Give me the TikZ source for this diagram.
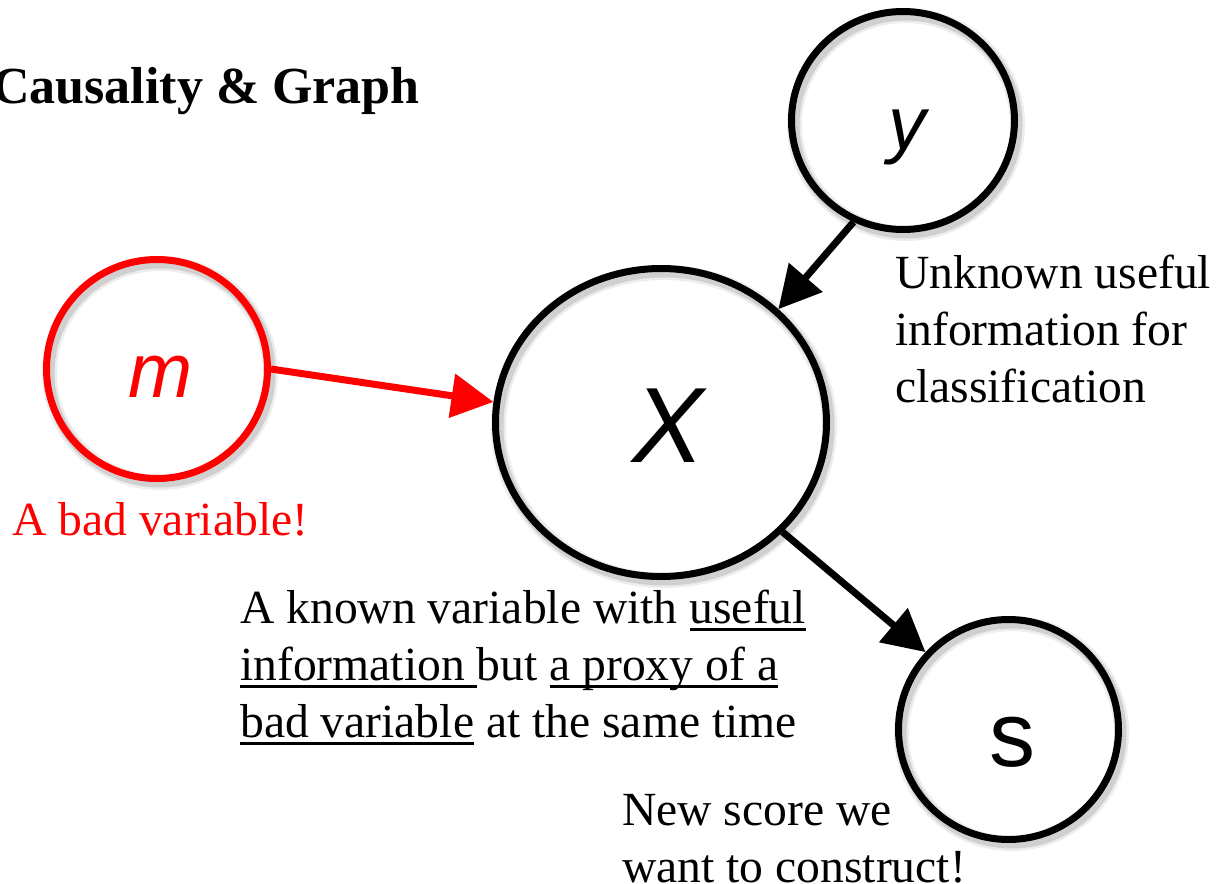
\documentclass[tikz,border=0pt]{standalone}
\usepackage{fontspec}
\setmainfont{Liberation Serif}
\newfontfamily\varfont{Liberation Sans}
\usetikzlibrary{arrows.meta,shapes.geometric}

% underline at a fixed depth below the baseline, like a word processor
\newcommand\uln[1]{\setbox0\hbox{#1}\rlap{\rule[-7.5pt]{\wd0}{3pt}}\box0\relax}

\tikzset{
  ringshadow/.style={
    preaction={draw=black, opacity=0.07, line width=15pt,
      transform canvas={shift={(3pt,-4pt)}}},
    preaction={draw=black, opacity=0.12, line width=10pt,
      transform canvas={shift={(3pt,-4pt)}}}},
  ring/.style={ellipse, draw=black, line width=7pt, inner sep=0pt, ringshadow},
  arr/.style={line width=7pt, -{Triangle[length=42pt,width=43pt]}},
  txt/.style={inner sep=0pt, font=\fontsize{47.6}{57}\selectfont},
  varlabel/.style={inner sep=0pt, anchor=base}
}

\begin{document}
\begin{tikzpicture}[x=1pt,y=1pt]
\useasboundingbox (0,0) rectangle (1219,-884);
\clip (0,0) rectangle (1219,-884);

% title
\node[inner sep=0pt, anchor=base east, font=\bfseries\fontsize{52}{60}\selectfont]
  (title) at (420,-103) {Causality \& Graph};

% variables
\node[ring, minimum width=223pt, minimum height=218pt] (y) at (903,-120.5) {};
\node[ring, minimum width=331pt, minimum height=308pt] (X) at (661,-422.5) {};
\node[ring, draw=red, minimum width=221pt, minimum height=219pt] (m) at (157,-369) {};
\node[ring, minimum width=220pt, minimum height=220pt] (s) at (1008.5,-729.5) {};

\node[varlabel, font=\varfont\itshape\fontsize{75}{75}\selectfont] (ylab) at (907,-149) {y};
\node[varlabel, text=red, font=\varfont\itshape\fontsize{77}{77}\selectfont] (mlab) at (161,-397) {m};
\node[varlabel, font=\varfont\itshape\fontsize{107}{107}\selectfont] (Xlab) at (668,-462) {X};
\node[varlabel, font=\varfont\fontsize{92}{92}\selectfont] (slab) at (1012,-766) {s};

% causal edges
\draw[arr, red] (m.east) -- (X.173);
\draw[arr] (y.244) -- (X.44);
\draw[arr] (X.318) -- (s.137);

% annotations
\node[txt, anchor=base west] (ynote) at (895,-288)
  {\begin{tabular}[t]{@{}l@{}}Unknown useful\\information for\\classification\end{tabular}};
\node[txt, anchor=base west, text=red] (mnote) at (12,-535) {A bad variable!};
\node[txt, anchor=base west] (Xnote) at (240,-623)
  {\begin{tabular}[t]{@{}l@{}}A known variable with \uln{useful}\\
   \uln{information\ }but \uln{a proxy of a}\\
   \uln{bad variable} at the same time\end{tabular}};
\node[txt, anchor=base west] (snote) at (622,-825)
  {\begin{tabular}[t]{@{}l@{}}New score we\\want to construct!\end{tabular}};
\end{tikzpicture}
\end{document}
